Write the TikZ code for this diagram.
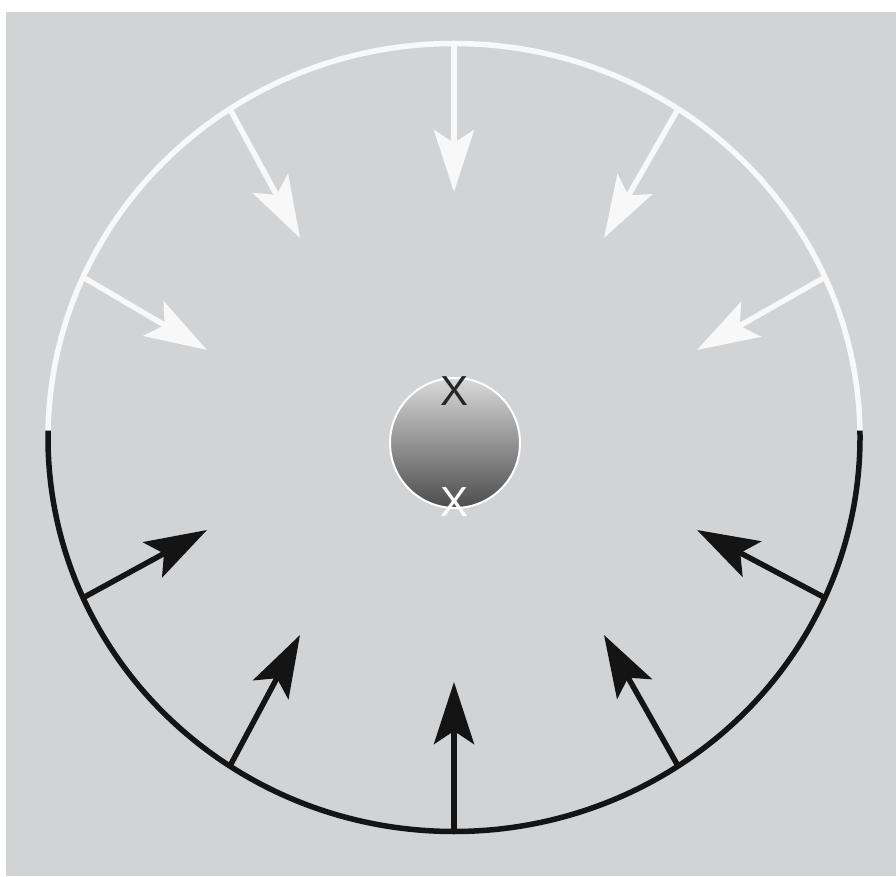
\documentclass[tikz,border=0pt]{standalone}
\usepackage{fontspec}
\setmainfont{Liberation Sans}
\usetikzlibrary{arrows.meta}
\definecolor{bggray}{HTML}{D1D3D5}
\definecolor{ringwhite}{HTML}{F8F8F8}
\definecolor{ringblack}{HTML}{141414}

\begin{document}
\begin{tikzpicture}[x=1pt,y=1pt,
    pull/.style={line width=5.5pt,-{Stealth[length=62pt,width=40pt,inset=13pt]}},
    mark x/.style={font=\fontsize{42}{42}\selectfont,inner sep=0pt}]
        \useasboundingbox (0,0) rectangle (896,876);
        \fill[bggray] (6,0) rectangle (896,864);
        \coordinate (c) at (454,438.5);
        % outer ring: white half above, black half below
        \draw[ringwhite,line width=5.5pt] ([shift={(1:406 and 394)}]c)
          arc[start angle=1,end angle=179,x radius=406,y radius=394];
        \draw[ringblack,line width=5.5pt] ([shift={(179:406 and 394)}]c)
          arc[start angle=179,end angle=361,x radius=406,y radius=394];
        \foreach \a/\tx/\ty [count=\i] in {90/454/684,123.5/300/638,156/207/526,24/697/526,56.5/604/638} {
          \coordinate (ws\i) at ([shift={(\a:406 and 394)}]c);
          \coordinate (wt\i) at (\tx,\ty);
          \draw[pull,ringwhite] (ws\i) -- (wt\i);
        }
        \foreach \a/\tx/\ty [count=\i] in {270/454/194,236.5/300/241,204/207/346,336/697/346,303.5/604/241} {
          \coordinate (bs\i) at ([shift={(\a:406 and 394)}]c);
          \coordinate (bt\i) at (\tx,\ty);
          \draw[pull,ringblack] (bs\i) -- (bt\i);
        }
        % core
        \shade[top color=black!15,bottom color=black!70] (455,433) circle (65);
        \draw[white,line width=2pt] (455,433) circle (65);
        \node[mark x,text=black!85] (xtop) at (454,485) {X};
        \node[mark x,text=white] (xbot) at (455,374) {X};
      \end{tikzpicture}
\end{document}
